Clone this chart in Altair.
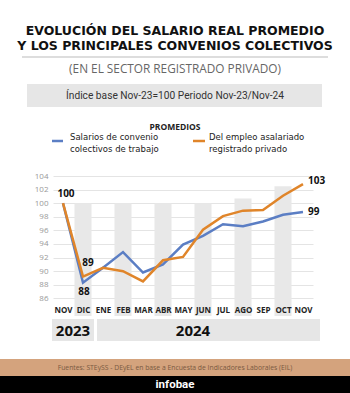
import altair as alt
import pandas as pd

# ---------------- data ----------------
keys = ["NOV-23", "DIC-23", "ENE-24", "FEB-24", "MAR-24", "ABR-24", "MAY-24",
        "JUN-24", "JUL-24", "AGO-24", "SEP-24", "OCT-24", "NOV-24"]
convenio = [100, 88.3, 90.5, 92.8, 89.8, 91.0, 93.9, 95.2, 96.9, 96.6, 97.3, 98.3, 98.7]
asalariado = [100, 89.2, 90.5, 90.0, 88.5, 91.6, 92.1, 96.1, 98.1, 98.9, 99.0, 101.1, 102.8]
series_names = ["Salarios de convenio colectivos de trabajo", "Del empleo asalariado registrado privado"]
series_colors = ["#5b7ec4", "#e0852a"]

bar_keys = ["DIC-23", "FEB-24", "ABR-24", "JUN-24", "AGO-24", "OCT-24"]
bar_tops = [100, 100, 100, 100, 100.7, 102.5]

y_ticks = [86, 88, 90, 92, 94, 96, 98, 100, 102, 104]
Y_MIN, Y_MAX = 83.4, 104

title_lines = ["EVOLUCIÓN DEL SALARIO REAL PROMEDIO", "Y LOS PRINCIPALES CONVENIOS COLECTIVOS"]
subtitle = "(EN EL SECTOR REGISTRADO PRIVADO)"
box_text = "Índice base Nov-23=100 Periodo Nov-23/Nov-24"
legend_title = "PROMEDIOS"
legend_lines_blue = ["Salarios de convenio", "colectivos de trabajo"]
legend_lines_orange = ["Del empleo asalariado", "registrado privado"]
source_text = "Fuentes: STEySS - DEyEL en base a Encuesta de Indicadores Laborales (EIL)"
brand = "infobae"

FONT = "Open Sans"
WIDE = "DejaVu Sans"

df = pd.DataFrame({
    "key": keys * 2,
    "serie": [series_names[0]] * len(keys) + [series_names[1]] * len(keys),
    "valor": convenio + asalariado,
})
bars_df = pd.DataFrame({"key": bar_keys, "top": bar_tops})
years_df = pd.DataFrame({"key": ["NOV-23", "MAY-24"], "year": ["2023", "2024"]})
one = pd.DataFrame({"a": [0]})

xscale = alt.Scale(type="point", domain=keys, padding=0.5)
yscale = alt.Scale(domain=[Y_MIN, Y_MAX], nice=False, zero=False)

xaxis = alt.Axis(labelExpr="split(datum.label, '-')[0]", labelAngle=0,
                 domain=False, ticks=False, grid=False, labelOverlap=False,
                 labelPadding=-6, labelBaseline="middle", zindex=1,
                 labelFont=FONT, labelFontWeight="bold", labelFontSize=8,
                 labelColor="#222")
yaxis = alt.Axis(values=y_ticks, domain=False, ticks=False, grid=True,
                 labelOverlap=False, labelFlush=False,
                 gridColor="#e4e4e4", labelColor="#999", labelFontSize=8,
                 labelFont=FONT, labelPadding=5)


def X(field):
    return alt.X(field, scale=xscale, axis=xaxis, title=None)


def Y(field):
    return alt.Y(field, scale=yscale, axis=yaxis, title=None)


bars = alt.Chart(bars_df).mark_bar(size=17, color="#e8e8e8").encode(
    x=X("key:N"),
    y=Y("top:Q"),
    y2=alt.datum(Y_MIN),
)

lines = alt.Chart(df).mark_line(strokeWidth=2.5).encode(
    x=X("key:N"),
    y=Y("valor:Q"),
    color=alt.Color("serie:N", scale=alt.Scale(domain=series_names, range=series_colors), legend=None),
)


def point_label(serie, key, dx, dy, align="center"):
    return alt.Chart(df).transform_filter(
        (alt.datum.serie == serie) & (alt.datum.key == key)
    ).mark_text(font=FONT, fontWeight="bold", fontSize=10, color="#111",
                dx=dx, dy=dy, align=align, baseline="middle").encode(
        x=X("key:N"),
        y=Y("valor:Q"),
        text=alt.Text("valor:Q", format=".0f"),
    )


labels = [
    point_label(series_names[1], "NOV-23", 3, -9),
    point_label(series_names[1], "DIC-23", 5, -14),
    point_label(series_names[0], "DIC-23", 1, 9),
    point_label(series_names[1], "NOV-24", 5, -3, "left"),
    point_label(series_names[0], "NOV-24", 5, 0, "left"),
]


def txt(s, x, y, size, weight="normal", color="#111", align="center", font=FONT):
    return alt.Chart(one).mark_text(text=s, fontSize=size, fontWeight=weight, color=color,
                                    align=align, baseline="middle", font=font).encode(
        x=alt.value(x), y=alt.value(y))


def rect(x, x2, y, y2, color):
    return alt.Chart(one).mark_rect(color=color).encode(
        x=alt.value(x), x2=alt.value(x2), y=alt.value(y), y2=alt.value(y2))


def hrule(x, x2, y, color, w):
    return alt.Chart(one).mark_rule(color=color, strokeWidth=w).encode(
        x=alt.value(x), x2=alt.value(x2), y=alt.value(y))


# year boxes (below the plot)
year23 = alt.Chart(one).mark_rect(color="#e6e6e6", xOffset=-11, x2Offset=11).encode(
    x=X("k1:N"), x2="k2:N", y=alt.value(143), y2=alt.value(165)
).transform_calculate(k1="'NOV-23'", k2="'DIC-23'")
year24 = alt.Chart(one).mark_rect(color="#e6e6e6", xOffset=-6, x2Offset=17).encode(
    x=X("k1:N"), x2="k2:N", y=alt.value(143), y2=alt.value(165)
).transform_calculate(k1="'ENE-24'", k2="'NOV-24'")
year_text = alt.Chart(years_df).mark_text(font=FONT, fontWeight="bold", fontSize=15,
                                          color="#111", dx=10, baseline="middle").encode(
    x=X("key:N"), y=alt.value(155), text="year:N")

decor = [
    txt(title_lines[0], 122, -145.5, 12.5, "bold", font=WIDE),
    txt(title_lines[1], 122, -130, 12.5, "bold", font=WIDE),
    hrule(-31, 275, -119, "#bbbbbb", 1),
    txt(subtitle, 122, -107, 11.8, "normal", "#666"),
    rect(-26, 269, -92, -69, "#e6e6e6"),
    txt(box_text, 122, -80, 10.2, "normal", "#333", font="Roboto"),
    txt(legend_title, 122, -49, 8.5, "bold", "#222"),
    hrule(-1, 10, -35, series_colors[0], 2.5),
    txt(legend_lines_blue[0], 17, -39, 8.5, "normal", "#222", "left", WIDE),
    txt(legend_lines_blue[1], 17, -27, 8.5, "normal", "#222", "left", WIDE),
    hrule(140, 152, -35, series_colors[1], 2.5),
    txt(legend_lines_orange[0], 156, -39, 8.5, "normal", "#222", "left", WIDE),
    txt(legend_lines_orange[1], 156, -27, 8.5, "normal", "#222", "left", WIDE),
    rect(-53, 297, 183, 200, "#d4a37d"),
    rect(-53, 297, 200, 217, "#000000"),
    txt(source_text, 122, 192, 6.8, "normal", "#7a5a42"),
    txt(brand, 122, 208.5, 11.5, "bold", "#ffffff", font="Roboto"),
]

chart = alt.layer(bars, lines, *labels, year23, year24, year_text, *decor).properties(
    width=260, height=140,
    padding={"left": 53, "top": 176, "right": 37, "bottom": 77},
    autosize=alt.AutoSizeParams(type="none"),
    background="white",
).configure_view(stroke=None)

chart.save("out.html", embed_options={"renderer": "svg", "actions": False})
